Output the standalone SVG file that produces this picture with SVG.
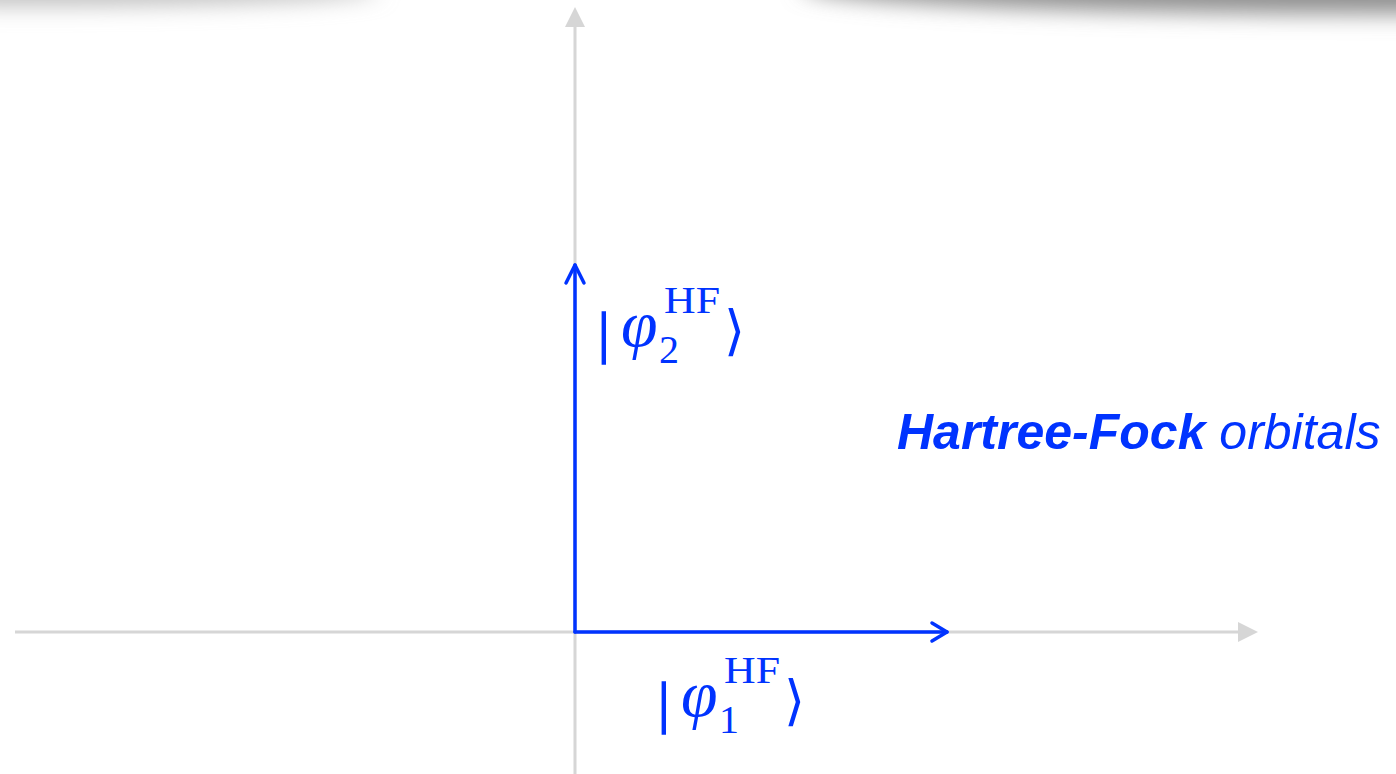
<svg xmlns="http://www.w3.org/2000/svg" width="1396" height="774" viewBox="0 0 1396 774">
<style>
.axis{stroke:#d6d6d6;stroke-width:3;fill:none}
.vec{stroke:#0033ff;stroke-width:3.5;fill:none;stroke-linecap:round;stroke-linejoin:round}
.math{font-family:"Liberation Serif",serif;fill:#0033ff}
.lab{font-family:"Liberation Sans",Arial,sans-serif;fill:#0033ff;font-style:italic;font-size:50px}
</style>
<defs>
<filter id="blur" x="-50%" y="-300%" width="200%" height="700%"><feGaussianBlur stdDeviation="11"/></filter>
</defs>
<rect width="1396" height="774" fill="#ffffff"/>
<g id="shadow">
<ellipse cx="1380" cy="-14" rx="580" ry="28" fill="#909090" filter="url(#blur)"/>
<ellipse cx="40" cy="-10" rx="340" ry="16" fill="#c0c0c0" filter="url(#blur)"/>
</g>
<g id="axes">
<line class="axis" x1="575" y1="774" x2="575" y2="24"/>
<polygon points="575,7 565,27 585,27" fill="#d6d6d6"/>
<line class="axis" x1="15" y1="632" x2="1240" y2="632"/>
<polygon points="1258,632 1238,622 1238,642" fill="#d6d6d6"/>
</g>
<g id="connectors">
<path class="vec" d="M575,632 V265"/>
<path class="vec" d="M566,283 L575,265 L584,283"/>
<path class="vec" d="M575,632 H947"/>
<path class="vec" d="M932,623 L947,632 L932,641"/>
</g>
<g id="phi2">
<text class="math" x="598" y="352" font-size="58" stroke="#0033ff" stroke-width="1.5">|</text>
<text class="math" x="621" y="346" font-size="66" font-style="italic">φ</text>
<text class="math" x="659" y="363" font-size="40">2</text>
<text class="math" x="664" y="313" font-size="38" textLength="56" lengthAdjust="spacingAndGlyphs">HF</text>
<text class="math" x="724" y="349" font-size="54">⟩</text>
</g>
<g id="phi1">
<text class="math" x="658" y="722" font-size="58" stroke="#0033ff" stroke-width="1.5">|</text>
<text class="math" x="681" y="716" font-size="66" font-style="italic">φ</text>
<text class="math" x="719" y="733" font-size="40">1</text>
<text class="math" x="724" y="683" font-size="38" textLength="56" lengthAdjust="spacingAndGlyphs">HF</text>
<text class="math" x="784" y="719" font-size="54">⟩</text>
</g>
<g id="label">
<text class="lab" x="897" y="449"><tspan font-weight="bold">Hartree-Fock</tspan> orbitals</text>
</g>
</svg>
